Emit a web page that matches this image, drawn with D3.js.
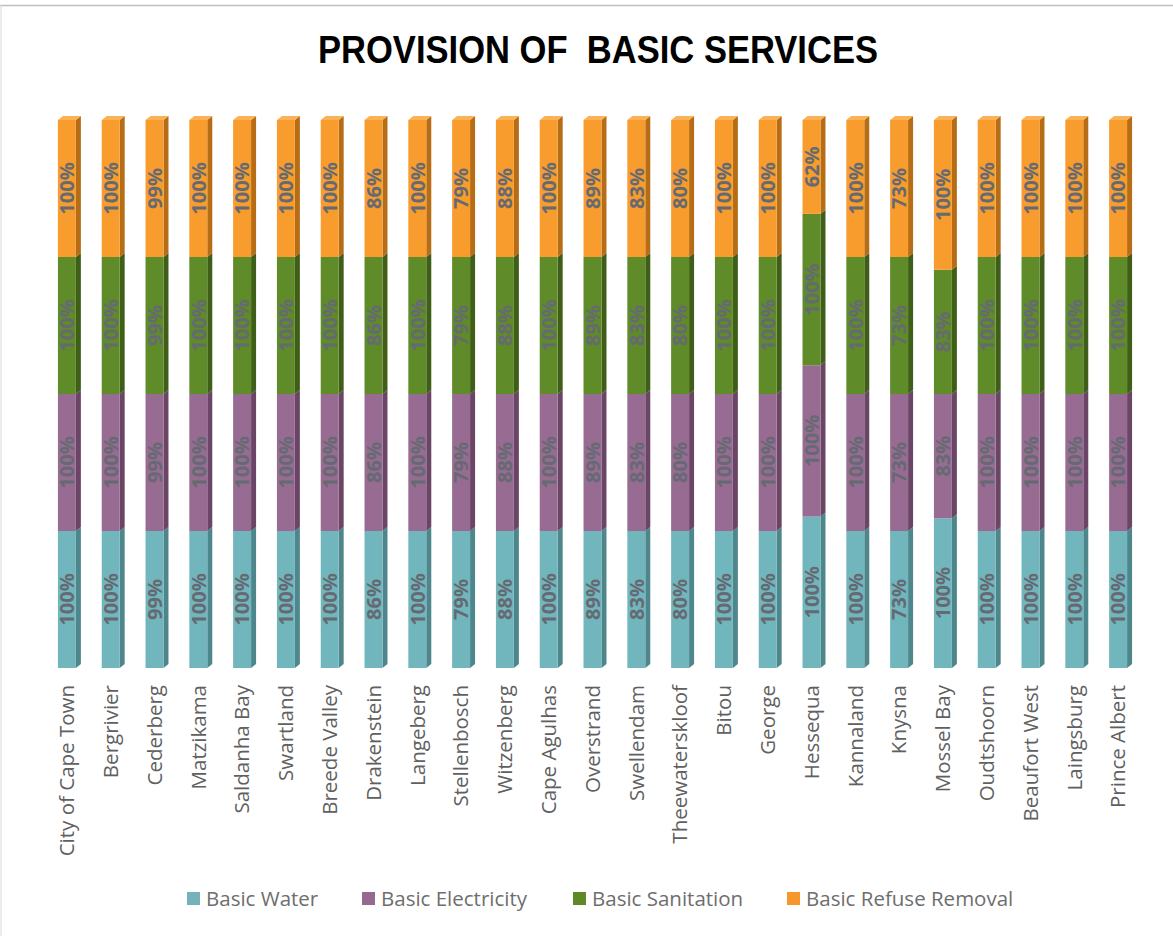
<!DOCTYPE html>
<html>
<head>
<meta charset="utf-8">
<script src="https://cdn.jsdelivr.net/npm/d3@7"></script>
<style>
  html, body { margin: 0; padding: 0; background: #fff; }
  svg { display: block; }
  .title { white-space: pre; }
</style>
</head>
<body>
<svg id="chart" width="1173" height="936"></svg>
<script>
// Municipalities along the x axis
const municipalities = [
  "City of Cape Town", "Bergrivier", "Cederberg", "Matzikama", "Saldanha Bay",
  "Swartland", "Breede Valley", "Drakenstein", "Langeberg", "Stellenbosch",
  "Witzenberg", "Cape Agulhas", "Overstrand", "Swellendam", "Theewaterskloof",
  "Bitou", "George", "Hessequa", "Kannaland", "Knysna", "Mossel Bay",
  "Oudtshoorn", "Beaufort West", "Laingsburg", "Prince Albert"
];

// Share of households with each basic service (%)
const basicWater = [100, 100, 99, 100, 100, 100, 100, 86, 100, 79, 88, 100, 89, 83, 80, 100, 100, 100, 100, 73, 100, 100, 100, 100, 100];
const basicElectricity = [100, 100, 99, 100, 100, 100, 100, 86, 100, 79, 88, 100, 89, 83, 80, 100, 100, 100, 100, 73, 83, 100, 100, 100, 100];
const basicSanitation = [100, 100, 99, 100, 100, 100, 100, 86, 100, 79, 88, 100, 89, 83, 80, 100, 100, 100, 100, 73, 83, 100, 100, 100, 100];
const basicRefuseRemoval = [100, 100, 99, 100, 100, 100, 100, 86, 100, 79, 88, 100, 89, 83, 80, 100, 100, 62, 100, 73, 100, 100, 100, 100, 100];

const seriesNames = ["Basic Water", "Basic Electricity", "Basic Sanitation", "Basic Refuse Removal"];
const seriesKeys = ["water", "electricity", "sanitation", "refuse"];

// Face colours per series: front, side (shaded), top (lit)
const frontColors = ["#72b6bd", "#986b92", "#5f8b28", "#f89c2e"];
const sideColors  = ["#4d868b", "#6a4566", "#3f5f19", "#b76c16"];
const topColors   = ["#8cc8ce", "#ad86a8", "#77a33f", "#fbb257"];
const legendColors = ["#75b2bb", "#966a8e", "#5d8a27", "#f7972b"];

const rows = municipalities.map((m, i) => ({
  name: m,
  water: basicWater[i],
  electricity: basicElectricity[i],
  sanitation: basicSanitation[i],
  refuse: basicRefuseRemoval[i]
}));

const svg = d3.select("#chart");

// Frame lines
svg.append("line").attr("x1", 0).attr("x2", 1173).attr("y1", 5.5).attr("y2", 5.5)
  .attr("stroke", "#bfbfbf").attr("stroke-width", 1.5);
svg.append("line").attr("x1", 1).attr("x2", 1).attr("y1", 5).attr("y2", 936)
  .attr("stroke", "#d9d9d9").attr("stroke-width", 1);

// Title
svg.append("text")
  .attr("class", "title")
  .attr("x", 598).attr("y", 63)
  .attr("text-anchor", "middle")
  .attr("font-family", "'Liberation Sans', Arial, sans-serif")
  .attr("font-weight", 700)
  .attr("font-size", 38)
  .attr("textLength", 560)
  .attr("lengthAdjust", "spacingAndGlyphs")
  .attr("fill", "#000")
  .text("PROVISION OF  BASIC SERVICES");

// Scales
const x = d3.scaleBand()
  .domain(municipalities)
  .range([45, 1140])
  .paddingInner(0.59)
  .paddingOuter(0.295);

const y = d3.scaleLinear().domain([0, 1]).range([668, 120]);

const stack = d3.stack().keys(seriesKeys).offset(d3.stackOffsetExpand);
const stacked = stack(rows);

const dx = 5, dy = -4; // 3D depth offset

const g = svg.append("g");

stacked.forEach((layer, si) => {
  const lg = g.append("g").attr("class", "series-" + seriesKeys[si]);
  layer.forEach(d => {
    const name = d.data.name;
    const x0 = x(name), x1 = x0 + x.bandwidth();
    const yTop = y(d[1]), yBot = y(d[0]);
    // side face
    lg.append("path")
      .attr("d", `M${x1},${yBot} L${x1 + dx},${yBot + dy} L${x1 + dx},${yTop + dy} L${x1},${yTop} Z`)
      .attr("fill", sideColors[si]);
    // front face
    lg.append("rect")
      .attr("x", x0).attr("y", yTop)
      .attr("width", x.bandwidth()).attr("height", yBot - yTop)
      .attr("fill", frontColors[si]);
    // top face on the uppermost segment
    if (si === stacked.length - 1) {
      lg.append("path")
        .attr("d", `M${x0},${yTop} L${x0 + dx},${yTop + dy} L${x1 + dx},${yTop + dy} L${x1},${yTop} Z`)
        .attr("fill", topColors[si]);
    }
  });
});

// Value labels, rotated inside each segment
stacked.forEach((layer, si) => {
  layer.forEach(d => {
    const cx = x(d.data.name) + x.bandwidth() / 2;
    const cy = (y(d[0]) + y(d[1])) / 2;
    g.append("text")
      .attr("transform", `translate(${cx},${cy}) rotate(-90)`)
      .attr("text-anchor", "middle")
      .attr("dy", "0.36em")
      .attr("font-family", "'Open Sans', sans-serif")
      .attr("font-weight", 700)
      .attr("font-size", 20)
      .attr("fill", "#656a72")
      .text(d.data[seriesKeys[si]] + "%");
  });
});

// Category axis labels
const xAxis = d3.axisBottom(x).tickSize(0).tickPadding(0);
const axisG = svg.append("g").attr("transform", "translate(0,685)").call(xAxis);
axisG.select(".domain").remove();
axisG.selectAll("text")
  .attr("font-family", "'Open Sans', sans-serif")
  .attr("font-size", 20.5)
  .attr("fill", "#606060")
  .attr("text-anchor", "end")
  .attr("transform", "rotate(-90)")
  .attr("x", 0)
  .attr("y", 0)
  .attr("dx", 0)
  .attr("dy", "0.36em");

// Legend
const legendX = [187, 362, 573, 787];
const legend = svg.append("g");
seriesNames.forEach((s, i) => {
  const item = legend.append("g").attr("transform", `translate(${legendX[i]},892)`);
  item.append("rect").attr("width", 13).attr("height", 13).attr("fill", legendColors[i]);
  item.append("text")
    .attr("x", 19).attr("y", 13.5)
    .attr("font-family", "'Open Sans', sans-serif")
    .attr("font-size", 20.5)
    .attr("fill", "#6e6e6e")
    .text(s);
});
</script>
</body>
</html>
